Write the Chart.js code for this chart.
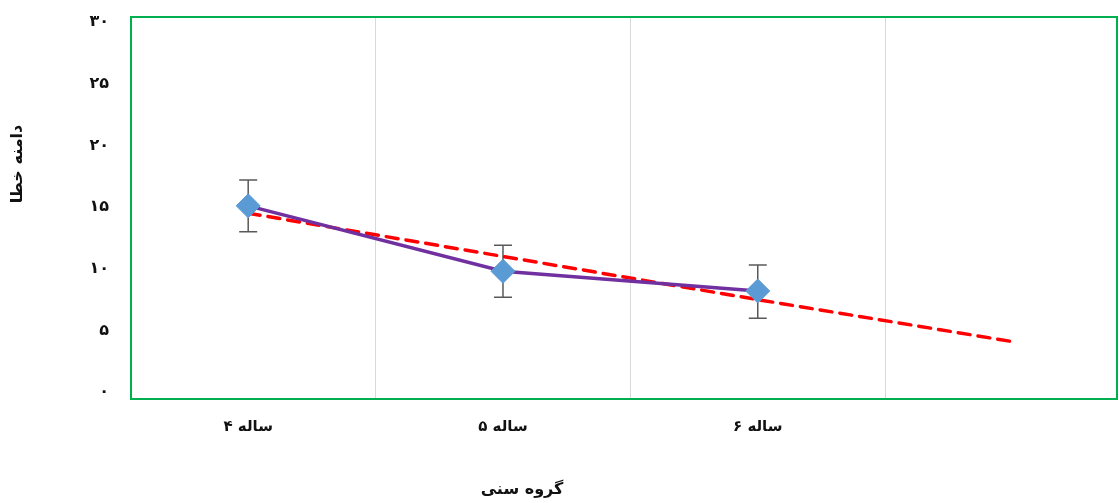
<!DOCTYPE html>
<html>
<head>
<meta charset="utf-8">
<script src="https://cdn.jsdelivr.net/npm/chart.js@4"></script>
<style>
  html, body { margin: 0; padding: 0; background: #ffffff; }
  #wrap { width: 1119px; height: 503px; }
</style>
</head>
<body>
<div id="wrap"><canvas id="chart" width="1119" height="503"></canvas></div>
<script>
const categories = ['۴ ساله', '۵ ساله', '۶ ساله', ''];
const meanValues = [15.1, 9.8, 8.2];
const errUpper = [17.2, 11.9, 10.3];
const errLower = [13.0, 7.7, 6.0];
const trendValues = [14.5, 11.0, 7.5, 4.1];
const yTickValues = [0, 5, 10, 15, 20, 25, 30];
const yTickLabels = ['۰', '۵', '۱۰', '۱۵', '۲۰', '۲۵', '۳۰'];
const xTitle = 'گروه سنی';
const yTitle = 'دامنه خطا';

const FONT = "'DejaVu Sans', sans-serif";

const errorBars = {
    id: 'errorBars',
    beforeDatasetsDraw(chart) {
        const ctx = chart.ctx;
        const x = chart.scales.x, y = chart.scales.y;
        ctx.save();
        ctx.strokeStyle = '#595959';
        ctx.lineWidth = 1.5;
        errUpper.forEach((hi, i) => {
            const px = x.getPixelForValue(i);
            const top = y.getPixelForValue(hi);
            const bot = y.getPixelForValue(errLower[i]);
            ctx.beginPath();
            ctx.moveTo(px, top); ctx.lineTo(px, bot);
            ctx.moveTo(px - 9, top); ctx.lineTo(px + 9, top);
            ctx.moveTo(px - 9, bot); ctx.lineTo(px + 9, bot);
            ctx.stroke();
        });
        ctx.restore();
    }
};

const frameAndTitles = {
    id: 'frameAndTitles',
    afterDraw(chart) {
        const ctx = chart.ctx;
        const a = chart.chartArea;
        ctx.save();
        ctx.strokeStyle = '#00b050';
        ctx.lineWidth = 2;
        ctx.strokeRect(a.left, a.top, a.right - a.left, a.bottom - a.top);

        ctx.fillStyle = '#111111';
        ctx.font = 'bold 16px ' + FONT;
        ctx.textAlign = 'center';
        ctx.textBaseline = 'middle';
        ctx.fillText(xTitle, 522, 490);

        ctx.translate(18, 164);
        ctx.rotate(-Math.PI / 2);
        ctx.fillText(yTitle, 0, 0);
        ctx.restore();
    }
};

new Chart(document.getElementById('chart').getContext('2d'), {
    type: 'line',
    data: {
        datasets: [
            {
                label: 'mean',
                data: meanValues.map((v, i) => ({ x: i, y: v })),
                borderColor: '#7030a0',
                borderWidth: 3.5,
                pointStyle: 'rectRot',
                pointRadius: 12,
                pointBackgroundColor: '#5b9bd5',
                pointBorderColor: '#5b9bd5',
                pointBorderWidth: 1,
                tension: 0,
                order: 1
            },
            {
                label: 'trend',
                data: trendValues.map((v, i) => ({ x: i, y: v })),
                borderColor: '#ff0000',
                borderWidth: 3.5,
                borderDash: [12, 8],
                borderCapStyle: 'round',
                pointRadius: 0,
                tension: 0,
                order: 2
            }
        ]
    },
    options: {
        responsive: false,
        animation: false,
        layout: { autoPadding: false, padding: { left: 0, right: 2, top: 17, bottom: 0 } },
        plugins: {
            legend: { display: false },
            tooltip: { enabled: false }
        },
        scales: {
            x: {
                type: 'linear',
                min: -0.46,
                max: 3.41,
                grid: {
                    offset: true,
                    color: '#d9d9d9',
                    lineWidth: 1,
                    drawTicks: false
                },
                border: { display: false },
                afterBuildTicks(scale) {
                    scale.ticks = categories.map((c, i) => ({ value: i }));
                },
                ticks: {
                    color: '#111111',
                    padding: 19,
                    maxRotation: 0,
                    font: { family: FONT, size: 15, weight: 'bold' },
                    callback(value) { return categories[value]; }
                },
                afterFit(scale) {
                    scale.height = 104;
                    scale.paddingLeft = 0;
                    scale.paddingRight = 0;
                }
            },
            y: {
                min: -0.55,
                max: 30.4,
                grid: { display: false, drawTicks: false },
                border: { display: false },
                afterBuildTicks(scale) {
                    scale.ticks = yTickValues.map(v => ({ value: v }));
                },
                ticks: {
                    color: '#111111',
                    padding: 22,
                    font: { family: FONT, size: 16, weight: 'bold' },
                    callback(value) {
                        const i = yTickValues.indexOf(value);
                        return i >= 0 ? yTickLabels[i] : '';
                    }
                },
                afterFit(scale) {
                    scale.width = 131;
                    scale.paddingTop = 0;
                    scale.paddingBottom = 0;
                }
            }
        }
    },
    plugins: [errorBars, frameAndTitles]
});
</script>
</body>
</html>
